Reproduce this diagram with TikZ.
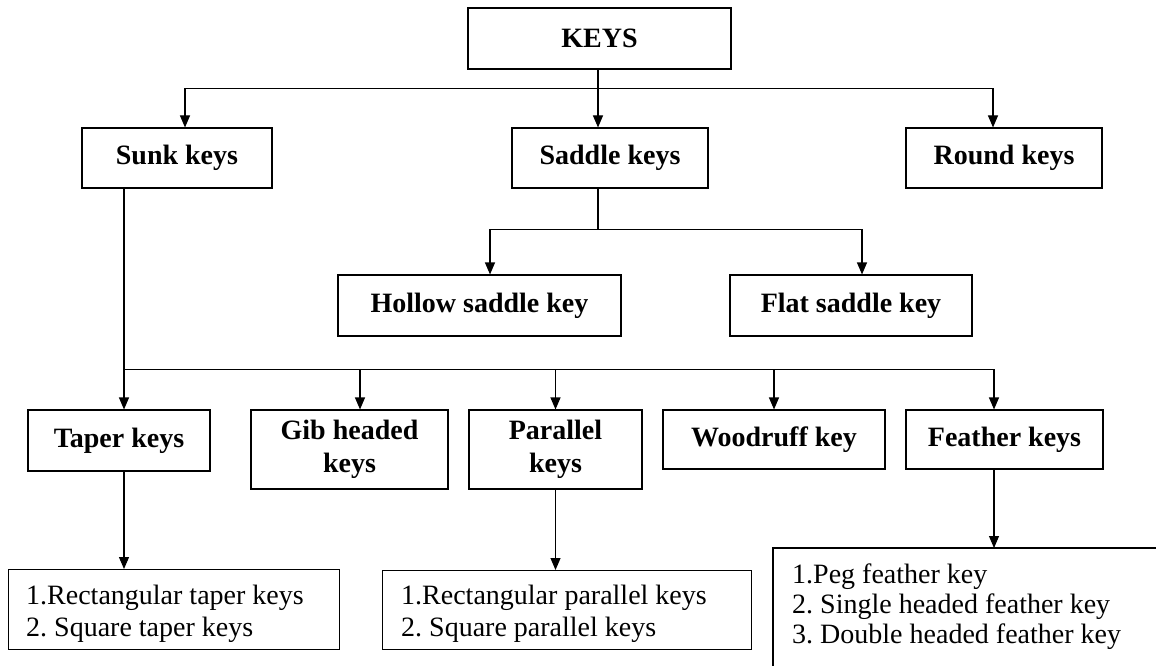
\documentclass[tikz,border=0pt]{standalone}
\usepackage{fontspec}
\setmainfont{Liberation Serif}
\usetikzlibrary{arrows.meta}
\frenchspacing
\begin{document}
\begin{tikzpicture}[x=1pt,y=-1pt,
  box/.style={draw, line width=1.1pt, inner sep=0pt, align=center,
    font=\fontsize{28}{33}\selectfont\bfseries},
  listbox/.style={draw, line width=1.1pt, inner sep=0pt, anchor=north west},
  listtext/.style={anchor=west, inner sep=0pt, align=left,
    font=\fontsize{28}{32}\selectfont},
  link/.style={line width=1.1pt},
  arrow/.style={line width=1.1pt, -{Triangle[length=12pt,width=10pt]}}]
\useasboundingbox (0,0) rectangle (1156,666);
% level 0
\node[box, minimum width=263, minimum height=61] (keys) at (599.5,38.5) {KEYS};
% level 1
\node[box, minimum width=190, minimum height=60] (sunk) at (177,158) {Sunk keys};
\node[box, minimum width=196, minimum height=60] (saddle) at (610,158) {Saddle keys};
\node[box, minimum width=196, minimum height=60] (round) at (1004,158) {Round keys};
% level 2
\node[box, minimum width=283, minimum height=61] (hollow) at (479.5,305.5) {Hollow saddle key};
\node[box, minimum width=242, minimum height=61] (flat) at (851,305.5) {Flat saddle key};
% level 3
\node[box, minimum width=182, minimum height=61] (taper) at (119,440.5) {Taper keys};
\node[box, minimum width=197, minimum height=79] (gib) at (349.5,449.5) {Gib headed\\keys};
\node[box, minimum width=173, minimum height=79] (parallel) at (555.5,449.5) {Parallel\\keys};
\node[box, minimum width=222, minimum height=59] (woodruff) at (774,439.5) {Woodruff key};
\node[box, minimum width=197, minimum height=59] (feather) at (1004.5,439.5) {Feather keys};
% lists
\node[listbox, minimum width=331, minimum height=80] (taperlist) at (8,569) {};
\node[listtext] (tapertext) at ([xshift=18pt,yshift=-4pt]taperlist.west)
  {1.Rectangular taper keys\\2. Square taper keys};
\node[listbox, minimum width=369, minimum height=79] (parlist) at (382,570) {};
\node[listtext] (partext) at ([xshift=19pt,yshift=-4pt]parlist.west)
  {1.Rectangular parallel keys\\2. Square parallel keys};
\node[anchor=north west, minimum width=383, minimum height=118, inner sep=0pt] (featherlist) at (773,548) {};
\node[listtext, anchor=north west, font=\fontsize{28}{30}\selectfont] (feathertext)
  at ([xshift=19pt,yshift=-16pt]featherlist.north west)
  {1.Peg feather key\\2. Single headed feather key\\3. Double headed feather key};
\draw[link] (featherlist.north east) -- (featherlist.north west) -- (featherlist.south west);
% connectors from KEYS
\draw[link] ([xshift=-1.5pt]keys.south) -- ++(0,19) coordinate (hub1);
\draw[arrow] (hub1) -| ([xshift=8pt]sunk.north);
\draw[arrow] (hub1) -- (hub1 |- saddle.north);
\draw[arrow] (hub1) -| ([xshift=-11pt]round.north);
% connectors from Saddle
\draw[link] ([xshift=-12pt]saddle.south) -- ++(0,41) coordinate (hub2);
\draw[arrow] (hub2) -| ([xshift=10.5pt]hollow.north);
\draw[arrow] (hub2) -| ([xshift=11pt]flat.north);
% connectors from Sunk
\draw[link] ([xshift=-53pt]sunk.south) -- ++(0,181) coordinate (hub3);
\draw[arrow] (hub3) -- (hub3 |- taper.north);
\draw[arrow] (hub3) -| ([xshift=10.5pt]gib.north);
\draw[arrow] (hub3) -| (parallel.north);
\draw[arrow] (hub3) -| (woodruff.north);
\draw[arrow] (hub3) -| ([xshift=-10.5pt]feather.north);
% to lists
\draw[arrow] ([xshift=5pt]taper.south) -- ([xshift=5pt]taper.south |- taperlist.north);
\draw[arrow] (parallel.south) -- (parallel.south |- parlist.north);
\draw[arrow] ([xshift=-10.5pt]feather.south) -- ([xshift=-10.5pt]feather.south |- featherlist.north);
\end{tikzpicture}
\end{document}
